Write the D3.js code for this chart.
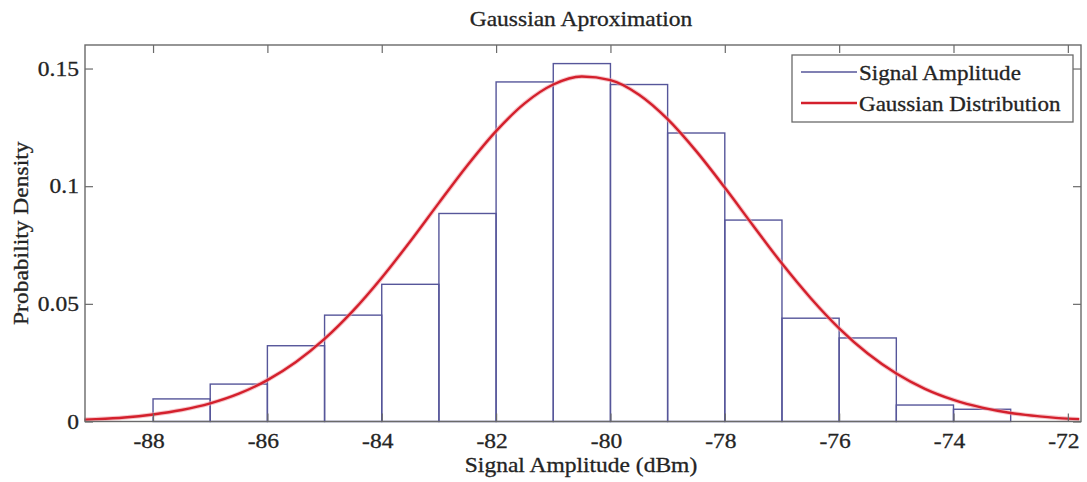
<!DOCTYPE html>
<html>
<head>
<meta charset="utf-8">
<script src="https://cdn.jsdelivr.net/npm/d3@7"></script>
<style>
  html, body { margin: 0; padding: 0; background: #fff; }
  svg { display: block; }
  text { font-family: "Liberation Serif", "Times New Roman", serif; fill: #242424; stroke: #242424; stroke-width: 0.3; }
</style>
</head>
<body>
<svg id="chart" width="1087" height="482"></svg>
<script>
// ---- data ----
const binLeft = [-88, -87, -86, -85, -84, -83, -82, -81, -80, -79, -78, -77, -76, -75, -74];
const binDensity = [0.0096, 0.0159, 0.0322, 0.0452, 0.0583, 0.0884, 0.1443, 0.1521, 0.1432, 0.1226, 0.0856, 0.0439, 0.0355, 0.0070, 0.0052];
const binWidth = 1;

const curveX = [-89.2, -89, -88.5, -88, -87.5, -87, -86.5, -86, -85.5, -85, -84.5, -84, -83.5, -83, -82.5, -82, -81.5, -81, -80.5, -80, -79.5, -79, -78.5, -78, -77.5, -77, -76.5, -76, -75.5, -75, -74.5, -74, -73.5, -73, -72.5, -72, -71.8];
const curveY = [0.0008, 0.0010, 0.0017, 0.0030, 0.0049, 0.0077, 0.0118, 0.0176, 0.0253, 0.0351, 0.0471, 0.0611, 0.0766, 0.0929, 0.1089, 0.1234, 0.1352, 0.1432, 0.1466, 0.1451, 0.1389, 0.1285, 0.1149, 0.0994, 0.0831, 0.0671, 0.0525, 0.0396, 0.0289, 0.0204, 0.0139, 0.0092, 0.0059, 0.0036, 0.0022, 0.0012, 0.0010];

const xTicks = [-88, -86, -84, -82, -80, -78, -76, -74, -72];
const yTicks = [0, 0.05, 0.1, 0.15];
const yTickLabels = ["0", "0.05", "0.1", "0.15"];

const titleText = "Gaussian Aproximation";
const xLabel = "Signal Amplitude (dBm)";
const yLabel = "Probability Density";
const legendLabels = ["Signal Amplitude", "Gaussian Distribution"];

// ---- layout ----
const L = 85, R = 1081, T = 45, B = 421.5;
const svg = d3.select("#chart");
const x = d3.scaleLinear().domain([-89.19, -71.77]).range([L, R]);
const y = d3.scaleLinear().domain([0, 0.16]).range([B, T]);

const barColor = "#56569a";
const curveColor = "#d4202c";
const boxColor = "#6a6a6a";
const fs = 21;
const sx = 1.12; // horizontal stretch of the reference's lettering

// bars
svg.append("g").selectAll("rect")
  .data(binLeft.map((b, i) => ({ b, v: binDensity[i] })))
  .join("rect")
  .attr("x", d => x(d.b))
  .attr("y", d => y(d.v))
  .attr("width", d => x(d.b + binWidth) - x(d.b))
  .attr("height", d => y(0) - y(d.v))
  .attr("fill", "none")
  .attr("stroke", barColor)
  .attr("stroke-width", 1.4);

// gaussian curve
const line = d3.line().x(d => x(d[0])).y(d => y(d[1])).curve(d3.curveMonotoneX);
const pts = curveX.map((v, i) => [v, curveY[i]]);
svg.append("path").datum(pts)
  .attr("d", line).attr("fill", "none")
  .attr("stroke", "#f0a0a8").attr("stroke-width", 4.5).attr("opacity", 0.6);
svg.append("path").datum(pts)
  .attr("d", line).attr("fill", "none")
  .attr("stroke", curveColor).attr("stroke-width", 2.4);

// axes: bottom / top / left / right, inward ticks
const tickLen = 8;
const xb = svg.append("g").attr("transform", `translate(0,${B})`)
  .call(d3.axisBottom(x).tickValues(xTicks).tickSizeInner(-tickLen).tickSizeOuter(0).tickPadding(12)
    .tickFormat(d => "-" + Math.abs(d)));
const xt = svg.append("g").attr("transform", `translate(0,${T})`)
  .call(d3.axisTop(x).tickValues(xTicks).tickSizeInner(-tickLen).tickSizeOuter(0).tickFormat(""));
const yl = svg.append("g").attr("transform", `translate(${L},0)`)
  .call(d3.axisLeft(y).tickValues(yTicks).tickSizeInner(-tickLen).tickSizeOuter(0).tickPadding(6)
    .tickFormat((d, i) => yTickLabels[i]));
const yr = svg.append("g").attr("transform", `translate(${R},0)`)
  .call(d3.axisRight(y).tickValues(yTicks).tickSizeInner(-tickLen).tickSizeOuter(0).tickFormat(""));

[xb, xt, yl, yr].forEach(g => {
  g.select(".domain").remove();
  g.selectAll(".tick line").attr("stroke", boxColor).attr("stroke-width", 1.2);
  g.selectAll(".tick text").attr("font-size", fs).attr("fill", "#242424")
    .style("font-family", '"Liberation Serif", serif')
    .attr("transform", `scale(${sx},1)`);
});
xb.selectAll(".tick text").attr("dx", -4);
yl.selectAll(".tick text").attr("x", -6 / sx);

// box
svg.append("rect").attr("x", L).attr("y", T).attr("width", R - L).attr("height", B - T)
  .attr("fill", "none").attr("stroke", boxColor).attr("stroke-width", 1.4);

// title and labels
svg.append("text").attr("transform", `translate(${(L + R) / 2 - 2},26) scale(${sx},1)`)
  .attr("text-anchor", "middle").attr("font-size", fs).text(titleText);
svg.append("text").attr("transform", `translate(${(L + R) / 2 - 2},472) scale(${sx},1)`)
  .attr("text-anchor", "middle").attr("font-size", fs).text(xLabel);
svg.append("text").attr("transform", `translate(28,${(T + B) / 2}) rotate(-90) scale(${sx},1)`)
  .attr("text-anchor", "middle").attr("font-size", fs).text(yLabel);

// legend
const lg = svg.append("g");
lg.append("rect").attr("x", 792).attr("y", 55).attr("width", 281).attr("height", 67)
  .attr("fill", "#fff").attr("stroke", boxColor).attr("stroke-width", 1.3);
const legColors = [barColor, curveColor];
const legWidths = [1.4, 2.6];
legendLabels.forEach((lab, i) => {
  const ly = 72 + i * 31;
  lg.append("line").attr("x1", 801).attr("x2", 857).attr("y1", ly).attr("y2", ly)
    .attr("stroke", legColors[i]).attr("stroke-width", legWidths[i]);
  lg.append("text").attr("transform", `translate(859,${ly + 7.5}) scale(${sx * 0.98},1)`)
    .attr("font-size", fs).text(lab);
});
</script>
</body>
</html>
